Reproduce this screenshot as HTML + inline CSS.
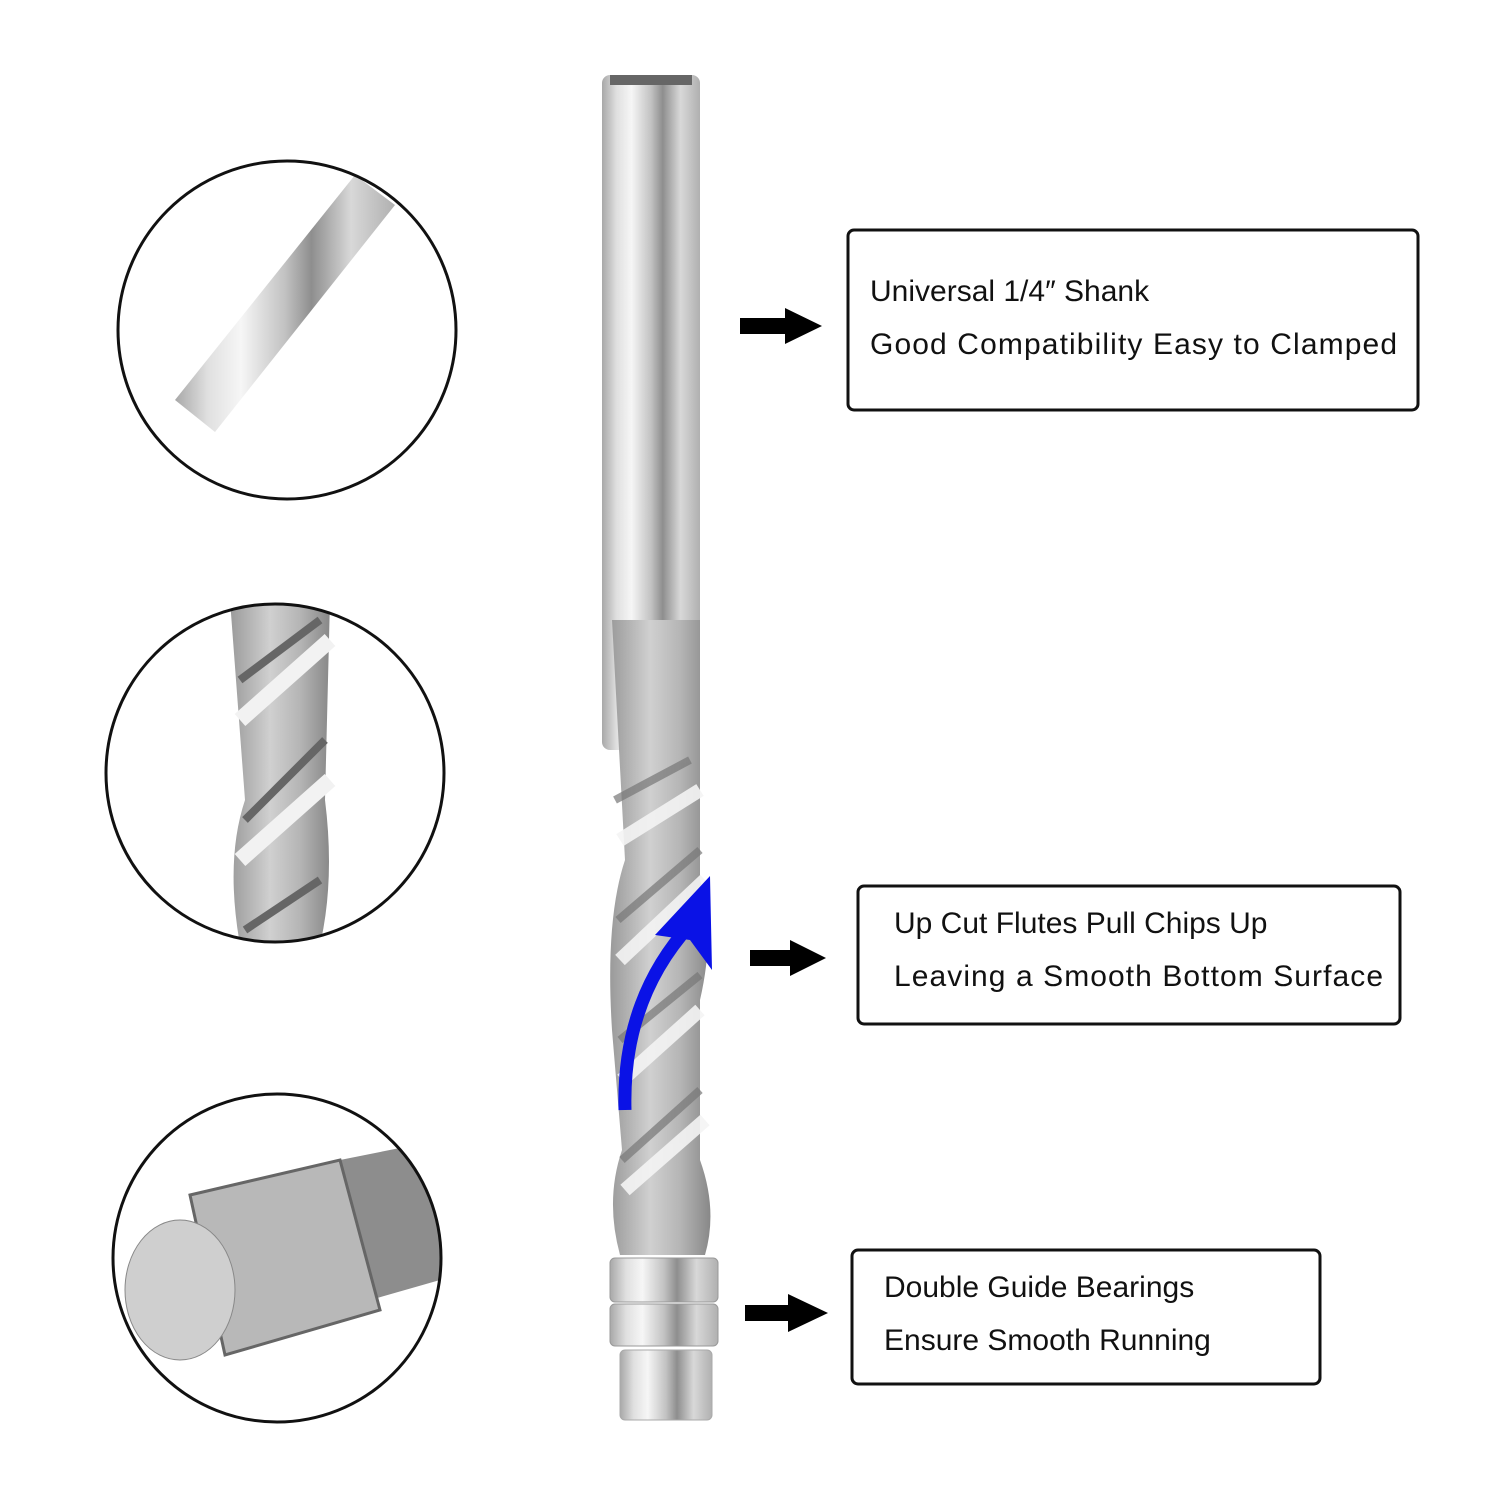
<!DOCTYPE html>
<html><head><meta charset="utf-8"><style>
html,body{margin:0;padding:0;background:#fff}
svg{display:block}
text{font-family:"Liberation Sans",sans-serif;font-size:30px;fill:#111}
</style></head><body>
<svg width="1500" height="1500" viewBox="0 0 1500 1500" xmlns="http://www.w3.org/2000/svg">
<defs>
<linearGradient id="steel" x1="0" x2="1" y1="0" y2="0">
<stop offset="0" stop-color="#a8a8a8"/><stop offset="0.15" stop-color="#e0e0e0"/>
<stop offset="0.3" stop-color="#f6f6f6"/><stop offset="0.5" stop-color="#c2c2c2"/>
<stop offset="0.62" stop-color="#8e8e8e"/><stop offset="0.8" stop-color="#d8d8d8"/>
<stop offset="1" stop-color="#b0b0b0"/></linearGradient>
<linearGradient id="flute" x1="0" x2="1"><stop offset="0" stop-color="#9a9a9a"/><stop offset="0.4" stop-color="#d0d0d0"/><stop offset="0.7" stop-color="#b5b5b5"/><stop offset="1" stop-color="#888"/></linearGradient>
<clipPath id="c1"><circle cx="287" cy="330" r="168"/></clipPath>
<clipPath id="c2"><circle cx="275" cy="773" r="168"/></clipPath>
<clipPath id="c3"><circle cx="277" cy="1258" r="163"/></clipPath>
</defs>

<rect x="602" y="75" width="98" height="675" rx="8" fill="url(#steel)"/>
<rect x="610" y="75" width="82" height="10" fill="#666"/>
<path d="M612 620 L700 620 L700 880 Q716 930 700 1000 L700 1160 Q718 1210 705 1255 L620 1255 Q605 1200 622 1150 L612 1030 Q605 920 625 860 Z" fill="url(#flute)"/>
<g stroke="#f4f4f4" stroke-width="14" fill="none" opacity="0.9">
<path d="M620 840 L700 790"/><path d="M620 960 L705 880"/><path d="M622 1080 L700 1010"/><path d="M625 1190 L705 1120"/>
</g>
<g stroke="#777" stroke-width="8" fill="none" opacity="0.7">
<path d="M615 800 L690 760"/><path d="M618 920 L700 850"/><path d="M620 1040 L700 975"/><path d="M622 1160 L700 1090"/>
</g>
<rect x="610" y="1258" width="108" height="44" rx="5" fill="url(#steel)" stroke="#999"/>
<rect x="610" y="1304" width="108" height="42" rx="5" fill="url(#steel)" stroke="#999"/>
<rect x="620" y="1350" width="92" height="70" rx="5" fill="url(#steel)" stroke="#aaa"/>

<path d="M625 1110 Q622 1000 690 925" stroke="#0a12e6" stroke-width="13" fill="none"/>
<path d="M710 876 L712 970 L690 940 L655 935 Z" fill="#0a12e6"/>

<g clip-path="url(#c1)">
<path d="M175 400 L355 175 L395 205 L215 432 Z" fill="url(#steel)"/>
</g>
<circle cx="287" cy="330" r="169" fill="none" stroke="#111" stroke-width="3"/>
<g clip-path="url(#c2)">
<path d="M230 600 L330 600 L325 800 Q335 880 320 945 L240 945 Q225 860 245 800 Z" fill="url(#flute)"/>
<g stroke="#f2f2f2" stroke-width="16"><path d="M240 720 L330 640"/><path d="M240 860 L330 780"/></g>
<g stroke="#666" stroke-width="8"><path d="M240 680 L320 620"/><path d="M245 820 L325 740"/><path d="M245 930 L320 880"/></g>
</g>
<circle cx="275" cy="773" r="169" fill="none" stroke="#111" stroke-width="3"/>
<g clip-path="url(#c3)">
<path d="M315 1165 L440 1140 L440 1280 L370 1300 Z" fill="#8d8d8d"/>
<path d="M190 1195 L340 1160 L380 1310 L225 1355 Z" fill="#b8b8b8" stroke="#666" stroke-width="3"/>
<ellipse cx="180" cy="1290" rx="55" ry="70" fill="#cfcfcf" stroke="#888"/>
</g>
<circle cx="277" cy="1258" r="164" fill="none" stroke="#111" stroke-width="3"/>

<path d="M740 318 L785 318 L785 308 L822 326 L785 344 L785 334 L740 334 Z" fill="#000"/>
<path d="M750 950 L790 950 L790 940 L826 958 L790 976 L790 966 L750 966 Z" fill="#000"/>
<path d="M745 1305 L788 1305 L788 1294 L828 1313 L788 1332 L788 1321 L745 1321 Z" fill="#000"/>

<rect x="848" y="230" width="570" height="180" rx="6" fill="#fff" stroke="#111" stroke-width="3"/>
<text x="870" y="301">Universal 1/4″  Shank</text>
<text x="870" y="354" textLength="527">Good Compatibility Easy to Clamped</text>

<rect x="858" y="886" width="542" height="138" rx="6" fill="#fff" stroke="#111" stroke-width="3"/>
<text x="894" y="933">Up Cut Flutes Pull Chips Up</text>
<text x="894" y="986" textLength="489">Leaving a Smooth Bottom Surface</text>

<rect x="852" y="1250" width="468" height="134" rx="6" fill="#fff" stroke="#111" stroke-width="3"/>
<text x="884" y="1297">Double Guide Bearings</text>
<text x="884" y="1350">Ensure Smooth Running</text>
</svg>
</body></html>
